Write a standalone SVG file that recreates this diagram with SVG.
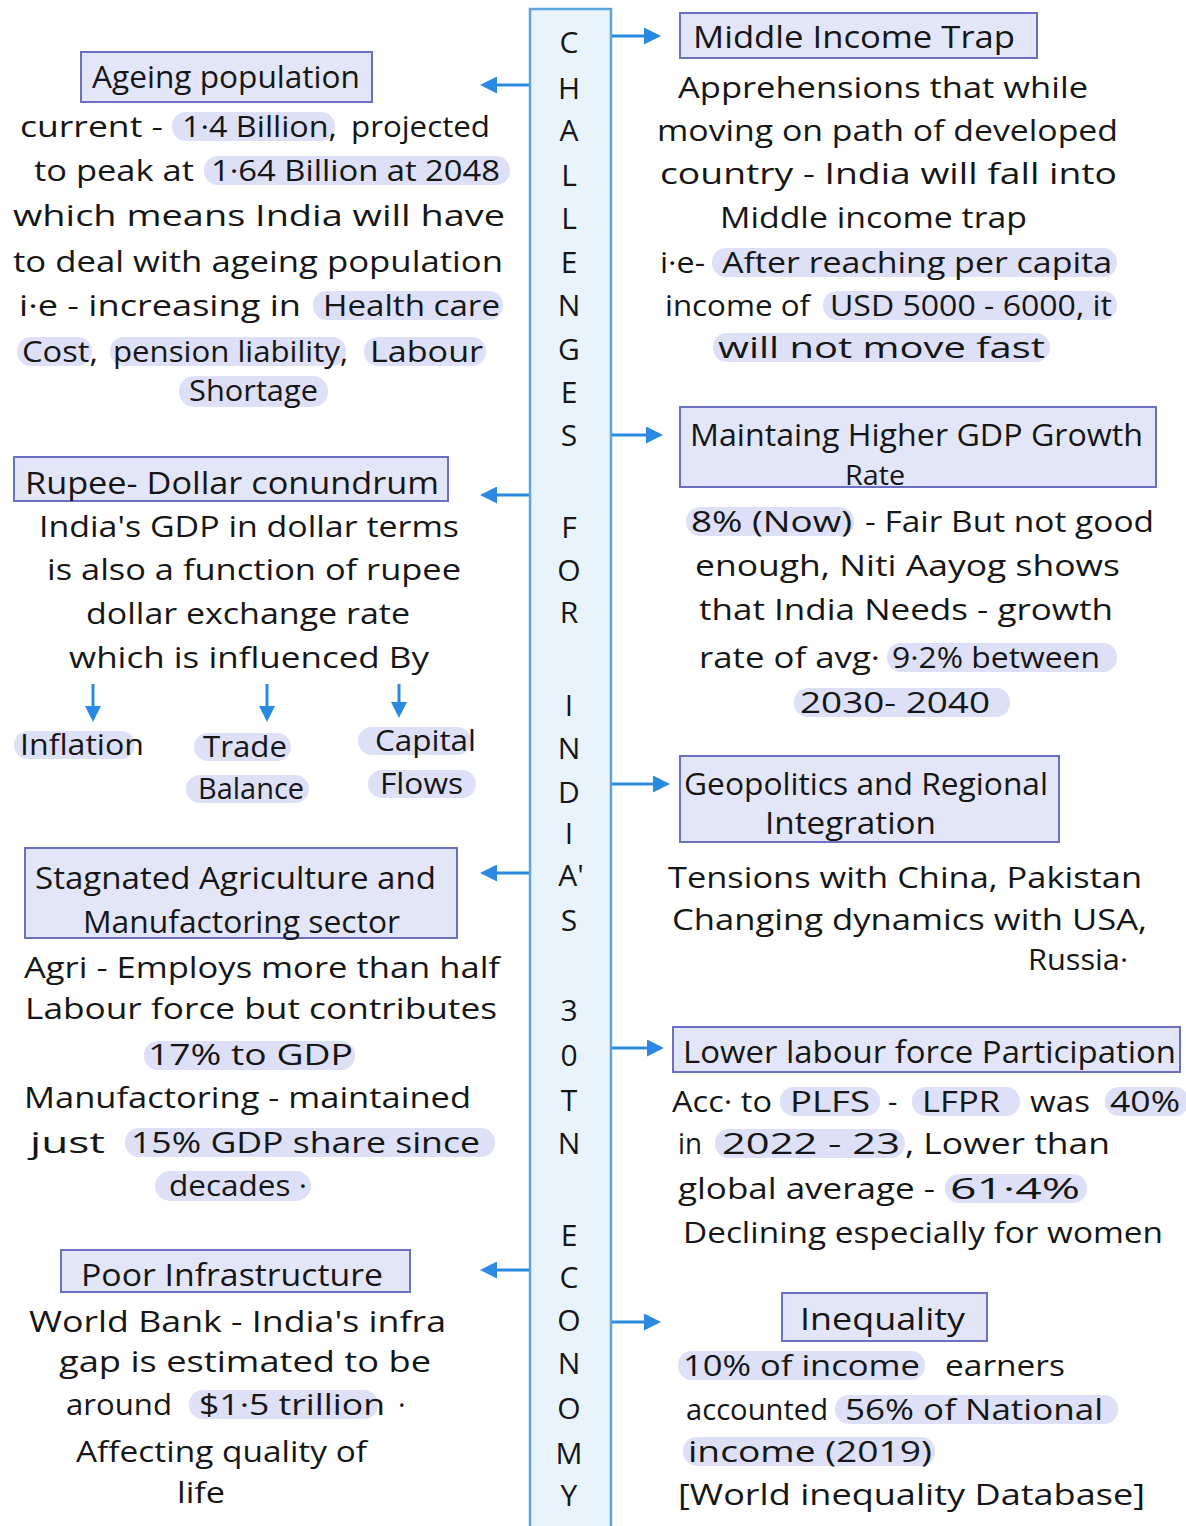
<svg xmlns="http://www.w3.org/2000/svg" width="1186" height="1526" viewBox="0 0 1186 1526">
<defs>
<style>
text{font-family:"Open Sans","Noto Sans","Liberation Sans",sans-serif;fill:#161616;}
.t{font-size:31px;}
.b{font-size:29px;}
.s{font-size:27px;}
.L{font-size:30px;text-anchor:middle;}
.box{fill:#e3e6f8;stroke:#6b70c4;stroke-width:2;}
.hl{fill:#dde0f6;}
.arr{stroke:#2a8ae2;stroke-width:3;fill:none;}
</style>
<marker id="ah" viewBox="0 0 17 17" refX="13" refY="8.5" markerWidth="17" markerHeight="17" markerUnits="userSpaceOnUse" orient="auto">
<path d="M0,0 L17,8.5 L0,17 z" fill="#2a8ae2"/>
</marker>
<marker id="ahs" viewBox="0 0 16 16" refX="12" refY="8" markerWidth="16" markerHeight="16" markerUnits="userSpaceOnUse" orient="auto">
<path d="M0,0 L16,8 L0,16 z" fill="#2a8ae2"/>
</marker>
</defs>
<rect width="1186" height="1526" fill="#ffffff"/>

<g id="spine">
<rect x="530" y="9" width="81" height="1530" fill="#e9f3fc" stroke="#5fa3dc" stroke-width="2.5"/>
<text class="L" x="569" y="53">C</text>
<text class="L" x="569" y="99">H</text>
<text class="L" x="569" y="141">A</text>
<text class="L" x="569" y="186">L</text>
<text class="L" x="569" y="229">L</text>
<text class="L" x="569" y="273">E</text>
<text class="L" x="569" y="316">N</text>
<text class="L" x="569" y="360">G</text>
<text class="L" x="569" y="403">E</text>
<text class="L" x="569" y="446">S</text>
<text class="L" x="569" y="538">F</text>
<text class="L" x="569" y="581">O</text>
<text class="L" x="569" y="623">R</text>
<text class="L" x="569" y="716">I</text>
<text class="L" x="569" y="759">N</text>
<text class="L" x="569" y="803">D</text>
<text class="L" x="569" y="844">I</text>
<text class="L" x="571" y="886">A'</text>
<text class="L" x="569" y="931">S</text>
<text class="L" x="569" y="1021">3</text>
<text class="L" x="569" y="1066">0</text>
<text class="L" x="569" y="1111">T</text>
<text class="L" x="569" y="1154">N</text>
<text class="L" x="569" y="1246">E</text>
<text class="L" x="569" y="1288">C</text>
<text class="L" x="569" y="1331">O</text>
<text class="L" x="569" y="1374">N</text>
<text class="L" x="569" y="1419">O</text>
<text class="L" x="569" y="1464">M</text>
<text class="L" x="569" y="1506">Y</text>
</g>

<g id="connectors">
<line class="arr" x1="529" y1="85" x2="484" y2="85" marker-end="url(#ah)"/>
<line class="arr" x1="529" y1="495" x2="484" y2="495" marker-end="url(#ah)"/>
<line class="arr" x1="529" y1="873" x2="484" y2="873" marker-end="url(#ah)"/>
<line class="arr" x1="529" y1="1270" x2="484" y2="1270" marker-end="url(#ah)"/>
<line class="arr" x1="612" y1="36" x2="657" y2="36" marker-end="url(#ah)"/>
<line class="arr" x1="612" y1="435" x2="659" y2="435" marker-end="url(#ah)"/>
<line class="arr" x1="612" y1="784" x2="666" y2="784" marker-end="url(#ah)"/>
<line class="arr" x1="612" y1="1048" x2="660" y2="1048" marker-end="url(#ah)"/>
<line class="arr" x1="612" y1="1322" x2="657" y2="1322" marker-end="url(#ah)"/>
<line class="arr" x1="93" y1="684" x2="93" y2="718" marker-end="url(#ahs)"/>
<line class="arr" x1="267" y1="684" x2="267" y2="718" marker-end="url(#ahs)"/>
<line class="arr" x1="399" y1="684" x2="399" y2="714" marker-end="url(#ahs)"/>
</g>

<g id="ageing-population">
<rect class="box" x="81" y="52" width="291" height="50"/>
<text class="t" x="92" y="88" textLength="268" lengthAdjust="spacingAndGlyphs">Ageing population</text>
<rect class="hl" x="172" y="112" width="163" height="29" rx="14"/>
<rect class="hl" x="204" y="156" width="306" height="29" rx="14"/>
<rect class="hl" x="313" y="291" width="190" height="29" rx="14"/>
<rect class="hl" x="17" y="337" width="75" height="29" rx="14"/>
<rect class="hl" x="110" y="337" width="236" height="29" rx="14"/>
<rect class="hl" x="364" y="337" width="122" height="29" rx="14"/>
<rect class="hl" x="179" y="376" width="149" height="31" rx="15"/>
<text class="b" x="20" y="137" textLength="143" lengthAdjust="spacingAndGlyphs">current -</text>
<text class="b" x="182" y="137" textLength="155" lengthAdjust="spacingAndGlyphs">1·4 Billion,</text>
<text class="b" x="351" y="137" textLength="139" lengthAdjust="spacingAndGlyphs">projected</text>
<text class="b" x="34" y="181" textLength="160" lengthAdjust="spacingAndGlyphs">to peak at</text>
<text class="b" x="211" y="181" textLength="289" lengthAdjust="spacingAndGlyphs">1·64 Billion at 2048</text>
<text class="b" x="13" y="226" textLength="492" lengthAdjust="spacingAndGlyphs">which means India will have</text>
<text class="b" x="13" y="272" textLength="490" lengthAdjust="spacingAndGlyphs">to deal with ageing population</text>
<text class="b" x="19" y="316" textLength="282" lengthAdjust="spacingAndGlyphs">i·e - increasing in</text>
<text class="b" x="323" y="316" textLength="177" lengthAdjust="spacingAndGlyphs">Health care</text>
<text class="b" x="22" y="362" textLength="76" lengthAdjust="spacingAndGlyphs">Cost,</text>
<text class="b" x="113" y="362" textLength="235" lengthAdjust="spacingAndGlyphs">pension liability,</text>
<text class="b" x="370" y="362" textLength="113" lengthAdjust="spacingAndGlyphs">Labour</text>
<text class="b" x="189" y="401" textLength="129" lengthAdjust="spacingAndGlyphs">Shortage</text>
</g>

<g id="rupee-dollar">
<rect class="box" x="14" y="457" width="434" height="44"/>
<text class="t" x="25" y="494" textLength="414" lengthAdjust="spacingAndGlyphs">Rupee- Dollar conundrum</text>
<text class="b" x="39" y="537" textLength="420" lengthAdjust="spacingAndGlyphs">India's GDP in dollar terms</text>
<text class="b" x="47" y="580" textLength="414" lengthAdjust="spacingAndGlyphs">is also a function of rupee</text>
<text class="b" x="86" y="624" textLength="324" lengthAdjust="spacingAndGlyphs">dollar exchange rate</text>
<text class="b" x="69" y="668" textLength="360" lengthAdjust="spacingAndGlyphs">which is influenced By</text>
</g>
<g id="inflation">
<rect class="hl" x="14" y="731" width="121" height="28" rx="14"/>
<text class="b" x="20" y="755" textLength="124" lengthAdjust="spacingAndGlyphs">Inflation</text>
</g>
<g id="trade-balance">
<rect class="hl" x="194" y="733" width="97" height="28" rx="14"/>
<rect class="hl" x="186" y="775" width="123" height="28" rx="14"/>
<text class="b" x="203" y="757" textLength="84" lengthAdjust="spacingAndGlyphs">Trade</text>
<text class="b" x="198" y="799" textLength="106" lengthAdjust="spacingAndGlyphs">Balance</text>
</g>
<g id="capital-flows">
<rect class="hl" x="358" y="727" width="113" height="28" rx="14"/>
<rect class="hl" x="368" y="770" width="108" height="28" rx="14"/>
<text class="b" x="375" y="751" textLength="101" lengthAdjust="spacingAndGlyphs">Capital</text>
<text class="b" x="380" y="794" textLength="83" lengthAdjust="spacingAndGlyphs">Flows</text>
</g>

<g id="agri-manufacturing">
<rect class="box" x="25" y="848" width="432" height="90"/>
<text class="t" x="35" y="889" textLength="401" lengthAdjust="spacingAndGlyphs">Stagnated Agriculture and</text>
<text class="t" x="83" y="933" textLength="317" lengthAdjust="spacingAndGlyphs">Manufactoring sector</text>
<rect class="hl" x="144" y="1041" width="211" height="29" rx="14"/>
<rect class="hl" x="125" y="1128" width="370" height="29" rx="14"/>
<rect class="hl" x="155" y="1171" width="156" height="30" rx="15"/>
<text class="b" x="24" y="978" textLength="476" lengthAdjust="spacingAndGlyphs">Agri - Employs more than half</text>
<text class="b" x="25" y="1019" textLength="472" lengthAdjust="spacingAndGlyphs">Labour force but contributes</text>
<text class="b" x="148" y="1065" textLength="205" lengthAdjust="spacingAndGlyphs">17% to GDP</text>
<text class="b" x="24" y="1108" textLength="447" lengthAdjust="spacingAndGlyphs">Manufactoring - maintained</text>
<text class="b" x="30" y="1153" textLength="75" lengthAdjust="spacingAndGlyphs">just</text>
<text class="b" x="131" y="1153" textLength="349" lengthAdjust="spacingAndGlyphs">15% GDP share since</text>
<text class="b" x="169" y="1196" textLength="138" lengthAdjust="spacingAndGlyphs">decades ·</text>
</g>

<g id="poor-infrastructure">
<rect class="box" x="61" y="1250" width="349" height="42"/>
<text class="t" x="81" y="1286" textLength="302" lengthAdjust="spacingAndGlyphs">Poor Infrastructure</text>
<rect class="hl" x="189" y="1390" width="189" height="29" rx="14"/>
<text class="b" x="29" y="1332" textLength="417" lengthAdjust="spacingAndGlyphs">World Bank - India's infra</text>
<text class="b" x="59" y="1372" textLength="372" lengthAdjust="spacingAndGlyphs">gap is estimated to be</text>
<text class="b" x="66" y="1415" textLength="106" lengthAdjust="spacingAndGlyphs">around</text>
<text class="b" x="199" y="1415" textLength="186" lengthAdjust="spacingAndGlyphs">$1·5 trillion</text>
<text class="b" x="398" y="1415">·</text>
<text class="b" x="76" y="1462" textLength="291" lengthAdjust="spacingAndGlyphs">Affecting quality of</text>
<text class="b" x="177" y="1503" textLength="48" lengthAdjust="spacingAndGlyphs">life</text>
</g>

<g id="middle-income-trap">
<rect class="box" x="680" y="13" width="357" height="45"/>
<text class="t" x="693" y="48" textLength="322" lengthAdjust="spacingAndGlyphs">Middle Income Trap</text>
<rect class="hl" x="712" y="248" width="405" height="29" rx="14"/>
<rect class="hl" x="823" y="291" width="294" height="29" rx="14"/>
<rect class="hl" x="713" y="333" width="337" height="29" rx="14"/>
<text class="b" x="678" y="98" textLength="410" lengthAdjust="spacingAndGlyphs">Apprehensions that while</text>
<text class="b" x="657" y="141" textLength="461" lengthAdjust="spacingAndGlyphs">moving on path of developed</text>
<text class="b" x="660" y="184" textLength="457" lengthAdjust="spacingAndGlyphs">country - India will fall into</text>
<text class="b" x="720" y="228" textLength="307" lengthAdjust="spacingAndGlyphs">Middle income trap</text>
<text class="b" x="660" y="273" textLength="45" lengthAdjust="spacingAndGlyphs">i·e-</text>
<text class="b" x="722" y="273" textLength="390" lengthAdjust="spacingAndGlyphs">After reaching per capita</text>
<text class="b" x="665" y="316" textLength="145" lengthAdjust="spacingAndGlyphs">income of</text>
<text class="b" x="830" y="316" textLength="282" lengthAdjust="spacingAndGlyphs">USD 5000 - 6000, it</text>
<text class="b" x="718" y="358" textLength="327" lengthAdjust="spacingAndGlyphs">will not move fast</text>
</g>

<g id="gdp-growth">
<rect class="box" x="680" y="407" width="476" height="80"/>
<text class="t" x="690" y="446" textLength="453" lengthAdjust="spacingAndGlyphs">Maintaing Higher GDP Growth</text>
<text class="s" x="845" y="485" textLength="60" lengthAdjust="spacingAndGlyphs">Rate</text>
<rect class="hl" x="686" y="507" width="168" height="29" rx="14"/>
<rect class="hl" x="887" y="643" width="230" height="29" rx="14"/>
<rect class="hl" x="794" y="688" width="216" height="29" rx="14"/>
<text class="b" x="691" y="532" textLength="161" lengthAdjust="spacingAndGlyphs">8% (Now)</text>
<text class="b" x="865" y="532" textLength="289" lengthAdjust="spacingAndGlyphs">- Fair But not good</text>
<text class="b" x="695" y="576" textLength="425" lengthAdjust="spacingAndGlyphs">enough, Niti Aayog shows</text>
<text class="b" x="699" y="620" textLength="414" lengthAdjust="spacingAndGlyphs">that India Needs - growth</text>
<text class="b" x="699" y="668" textLength="181" lengthAdjust="spacingAndGlyphs">rate of avg·</text>
<text class="b" x="892" y="668" textLength="208" lengthAdjust="spacingAndGlyphs">9·2% between</text>
<text class="b" x="800" y="713" textLength="190" lengthAdjust="spacingAndGlyphs">2030- 2040</text>
</g>

<g id="geopolitics">
<rect class="box" x="680" y="756" width="379" height="86"/>
<text class="t" x="684" y="795" textLength="364" lengthAdjust="spacingAndGlyphs">Geopolitics and Regional</text>
<text class="t" x="765" y="834" textLength="171" lengthAdjust="spacingAndGlyphs">Integration</text>
<text class="b" x="668" y="888" textLength="474" lengthAdjust="spacingAndGlyphs">Tensions with China, Pakistan</text>
<text class="b" x="672" y="930" textLength="475" lengthAdjust="spacingAndGlyphs">Changing dynamics with USA,</text>
<text class="b" x="1028" y="970" textLength="100" lengthAdjust="spacingAndGlyphs">Russia·</text>
</g>

<g id="labour-force">
<rect class="box" x="673" y="1027" width="507" height="45"/>
<text class="t" x="683" y="1063" textLength="493" lengthAdjust="spacingAndGlyphs">Lower labour force Participation</text>
<rect class="hl" x="780" y="1087" width="100" height="29" rx="14"/>
<rect class="hl" x="912" y="1087" width="108" height="29" rx="14"/>
<rect class="hl" x="1105" y="1087" width="84" height="29" rx="14"/>
<rect class="hl" x="715" y="1129" width="190" height="29" rx="14"/>
<rect class="hl" x="945" y="1174" width="142" height="29" rx="14"/>
<text class="b" x="672" y="1112" textLength="100" lengthAdjust="spacingAndGlyphs">Acc· to</text>
<text class="b" x="790" y="1112" textLength="80" lengthAdjust="spacingAndGlyphs">PLFS</text>
<text class="b" x="888" y="1112">-</text>
<text class="b" x="922" y="1112" textLength="78" lengthAdjust="spacingAndGlyphs">LFPR</text>
<text class="b" x="1030" y="1112" textLength="60" lengthAdjust="spacingAndGlyphs">was</text>
<text class="b" x="1110" y="1112" textLength="70" lengthAdjust="spacingAndGlyphs">40%</text>
<text class="b" x="678" y="1154" textLength="24" lengthAdjust="spacingAndGlyphs">in</text>
<text class="b" x="722" y="1154" textLength="178" lengthAdjust="spacingAndGlyphs">2022 - 23</text>
<text class="b" x="905" y="1154" textLength="205" lengthAdjust="spacingAndGlyphs">, Lower than</text>
<text class="b" x="678" y="1199" textLength="257" lengthAdjust="spacingAndGlyphs">global average -</text>
<text class="b" x="950" y="1199" textLength="130" lengthAdjust="spacingAndGlyphs">61·4%</text>
<text class="b" x="683" y="1243" textLength="480" lengthAdjust="spacingAndGlyphs">Declining especially for women</text>
</g>

<g id="inequality">
<rect class="box" x="782" y="1293" width="205" height="48"/>
<text class="t" x="800" y="1330" textLength="165" lengthAdjust="spacingAndGlyphs">Inequality</text>
<rect class="hl" x="678" y="1351" width="247" height="29" rx="14"/>
<rect class="hl" x="835" y="1395" width="283" height="29" rx="14"/>
<rect class="hl" x="683" y="1437" width="252" height="29" rx="14"/>
<text class="b" x="683" y="1376" textLength="237" lengthAdjust="spacingAndGlyphs">10% of income</text>
<text class="b" x="945" y="1376" textLength="120" lengthAdjust="spacingAndGlyphs">earners</text>
<text class="b" x="686" y="1420" textLength="142" lengthAdjust="spacingAndGlyphs">accounted</text>
<text class="b" x="845" y="1420" textLength="258" lengthAdjust="spacingAndGlyphs">56% of National</text>
<text class="b" x="688" y="1462" textLength="244" lengthAdjust="spacingAndGlyphs">income (2019)</text>
<text class="b" x="678" y="1505" textLength="467" lengthAdjust="spacingAndGlyphs">[World inequality Database]</text>
</g>
</svg>
